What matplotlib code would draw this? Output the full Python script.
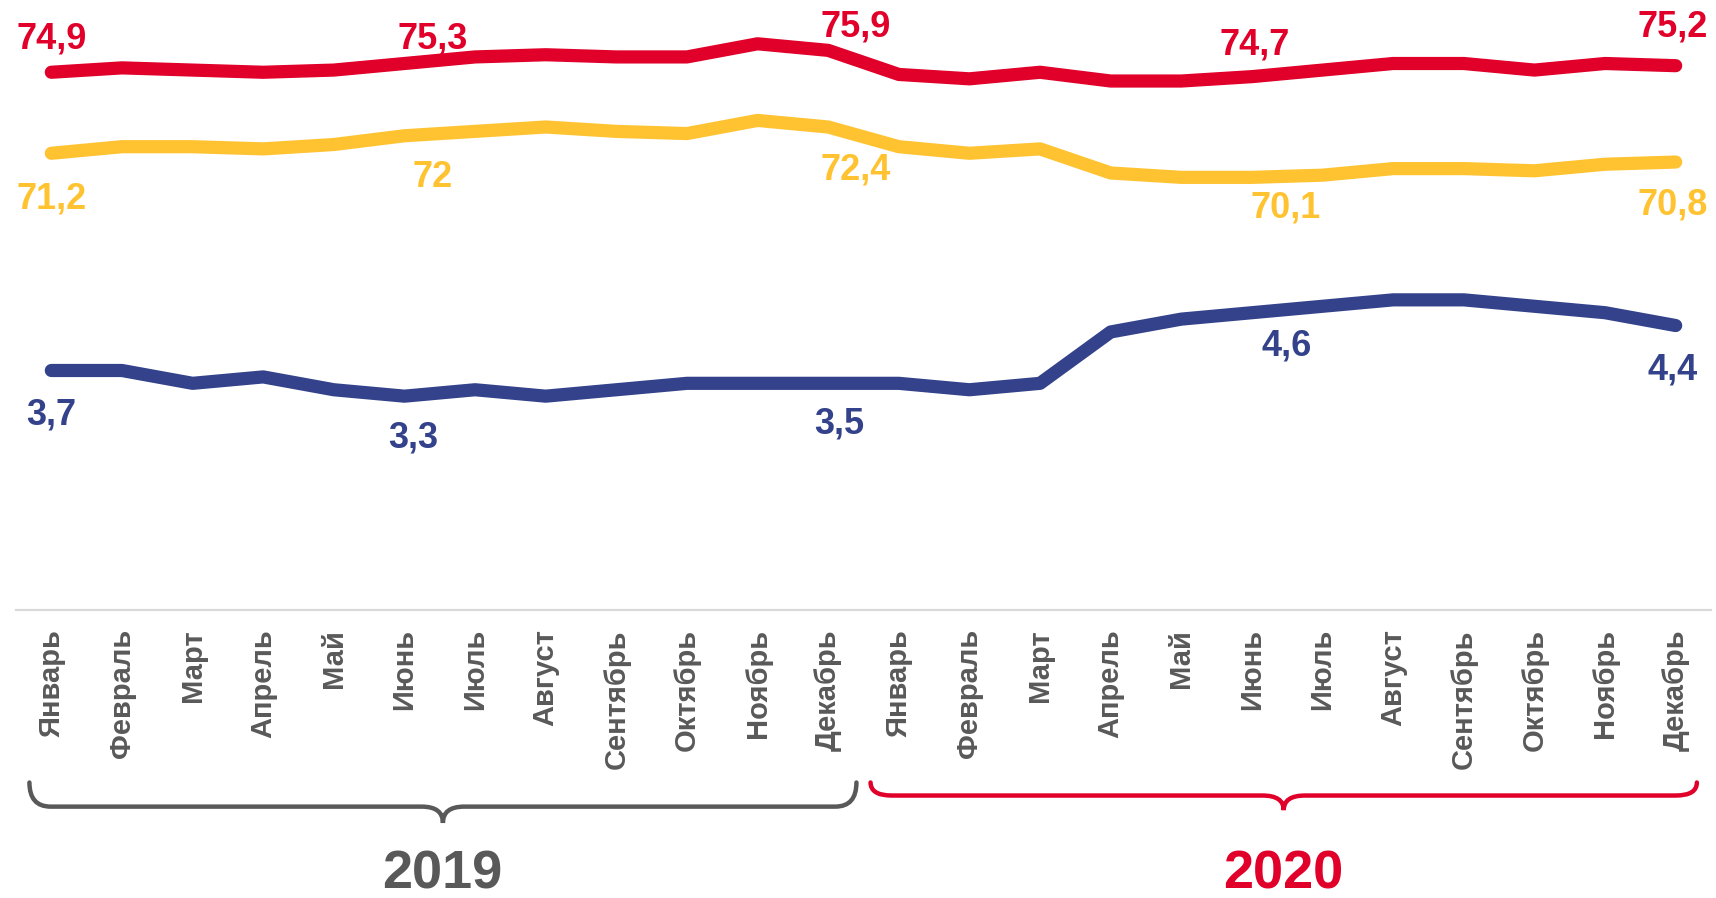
import matplotlib.pyplot as plt
from matplotlib.path import Path
from matplotlib.patches import PathPatch
import matplotlib.transforms as mtransforms
from matplotlib import font_manager

months = ['Январь', 'Февраль', 'Март', 'Апрель', 'Май', 'Июнь', 'Июль',
          'Август', 'Сентябрь', 'Октябрь', 'Ноябрь', 'Декабрь']
labels_x = months * 2
years = ['2019', '2020']

red_vals = [74.9, 75.1, 75.0, 74.9, 75.0, 75.3, 75.6, 75.7, 75.6, 75.6, 76.2, 75.9,
            74.8, 74.6, 74.9, 74.5, 74.5, 74.7, 75.0, 75.3, 75.3, 75.0, 75.3, 75.2]
yellow_vals = [71.2, 71.5, 71.5, 71.4, 71.6, 72.0, 72.2, 72.4, 72.2, 72.1, 72.7, 72.4,
               71.5, 71.2, 71.4, 70.3, 70.1, 70.1, 70.2, 70.5, 70.5, 70.4, 70.7, 70.8]
blue_vals = [3.7, 3.7, 3.5, 3.6, 3.4, 3.3, 3.4, 3.3, 3.4, 3.5, 3.5, 3.5,
             3.5, 3.4, 3.5, 4.3, 4.5, 4.6, 4.7, 4.8, 4.8, 4.7, 4.6, 4.4]
# months that carry a value label
label_idx = [0, 5, 11, 17, 23]

RED = '#E0002A'
YELLOW = '#FFC331'
BLUE = '#33428A'
GREY = '#595959'

# condensed face if there is one, otherwise plain Liberation Sans
names = {f.name for f in font_manager.fontManager.ttflist}
if 'Liberation Sans Narrow' in names:
    NARROW = ['Liberation Sans Narrow']
else:
    NARROW = ['Liberation Sans']

W, H = 1716, 898
fig = plt.figure(figsize=(W / 100, H / 100), dpi=100)
ax = fig.add_axes([16 / W, 1 - 609.6 / H, 1695 / W, 609.6 / H])
ax2 = ax.twinx()

x = list(range(len(labels_x)))
kw = dict(lw=9.5, solid_capstyle='round', solid_joinstyle='round', zorder=3)
ax.plot(x, red_vals, color=RED, **kw)
ax.plot(x, yellow_vals, color=YELLOW, **kw)
ax2.plot(x, blue_vals, color=BLUE, **kw)

ax.set_xlim(-0.5, 23.5)
ax.set_ylim(50.36, 78.2)
ax2.set_ylim(-0.024, 9.47)

# value labels, offsets in points
red_off = [(0, 24), (20, 18), (20, 17), (2, 23), (-2, 28)]
yel_off = [(0, -33), (20, -30), (20, -31), (24, -22), (-2, -31)]
blu_off = [(0, -32), (6, -30), (8, -29), (25, -24), (-2, -32)]

def put_labels(axis, vals, offs, color):
    for i, (dx, dy) in zip(label_idx, offs):
        txt = f'{vals[i]:g}'.replace('.', ',')
        axis.annotate(txt, (i, vals[i]), xytext=(dx, dy), textcoords='offset points',
                      ha='center', va='center', fontsize=26, fontweight='bold',
                      color=color, family=NARROW, annotation_clip=False)

put_labels(ax, red_vals, red_off, RED)
put_labels(ax, yellow_vals, yel_off, YELLOW)
put_labels(ax2, blue_vals, blu_off, BLUE)

ax.set_xticks(x)
ax.set_xticklabels(labels_x, rotation=90, fontsize=21, fontweight='bold',
                   color=GREY, family=['Liberation Sans', 'DejaVu Sans'])
ax.tick_params(axis='x', length=0, pad=14)
ax.set_yticks([])
ax2.set_yticks([])
for a in (ax, ax2):
    for s in ['top', 'left', 'right']:
        a.spines[s].set_visible(False)
    a.spines['bottom'].set_color('#D9D9D9')
    a.spines['bottom'].set_linewidth(1.5)

# year braces: x in data units, y in axes fraction
trans = mtransforms.blended_transform_factory(ax.transData, ax.transAxes)

def brace(x0, x1, ytop, ymid, ytip, color):
    xc = (x0 + x1) / 2
    r = 0.3
    verts = [(x0, ytop), (x0, ymid), (x0 + r, ymid),
             (xc - r, ymid), (xc, ymid), (xc, ytip),
             (xc, ymid), (xc + r, ymid),
             (x1 - r, ymid), (x1, ymid), (x1, ytop)]
    codes = [Path.MOVETO, Path.CURVE3, Path.CURVE3,
             Path.LINETO, Path.CURVE3, Path.CURVE3,
             Path.CURVE3, Path.CURVE3,
             Path.LINETO, Path.CURVE3, Path.CURVE3]
    ax.add_patch(PathPatch(Path(verts, codes), fill=False, edgecolor=color, lw=3.2,
                           transform=trans, clip_on=False, capstyle='round'))

brace(-0.31, 11.40, -0.2836, -0.3232, -0.350, GREY)
brace(11.60, 23.30, -0.2836, -0.305, -0.329, RED)

ax.text(5.54, -0.435, years[0], transform=trans, ha='center', va='center',
        fontsize=39, fontweight='bold', color=GREY, family=NARROW)
ax.text(17.45, -0.435, years[1], transform=trans, ha='center', va='center',
        fontsize=39, fontweight='bold', color=RED, family=NARROW)

fig.savefig('out.png', dpi=100)
